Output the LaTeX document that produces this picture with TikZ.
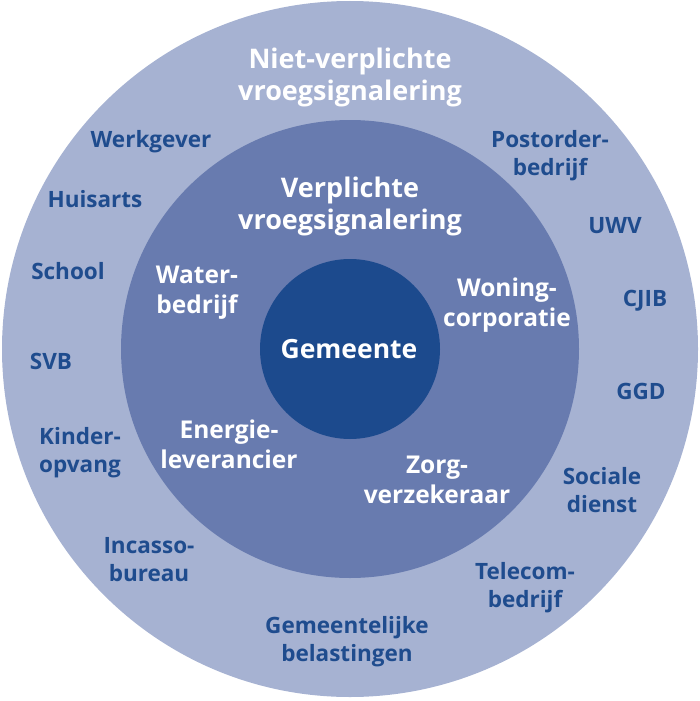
\documentclass[tikz,border=0pt]{standalone}
\usepackage{fontspec}
\setmainfont{Open Sans}
\definecolor{ringout}{HTML}{A6B2D2}
\definecolor{ringmid}{HTML}{687BAF}
\definecolor{core}{HTML}{1C4A8D}
\definecolor{labelblue}{HTML}{1F4C8E}
\begin{document}
\begin{tikzpicture}[x=1pt,y=-1pt,
  outer/.style={text=labelblue,align=center,inner sep=0pt,font=\bfseries\fontsize{22.5}{28}\selectfont},
  inner/.style={text=white,align=center,inner sep=0pt,font=\bfseries\fontsize{24.5}{30}\selectfont},
  centre/.style={text=white,align=center,inner sep=0pt,font=\bfseries\fontsize{26.5}{29}\selectfont},
  title/.style={text=white,align=center,inner sep=0pt,font=\bfseries\fontsize{27}{32}\selectfont}]

		\useasboundingbox (0,0) rectangle (700,701);

		\coordinate (O) at (350,349);

		\fill [ringout] (O) circle (348pt);
		\fill [ringmid] (O) circle (229pt);
		\fill [core] (O) circle (90pt);

		% titles
		\node [title] (niet) at (350,77) {Niet-verplichte\\vroegsignalering};
		\node [title] (verpl) at (350,206) {Verplichte\\vroegsignalering};

		% centre
		\node [centre] (gem) at (349,349) {Gemeente};

		% middle ring
		\node [inner] (water) at (197,293) {Water-\\bedrijf};
		\node [inner] (woning) at (507,305) {Woning-\\corporatie};
		\node [inner] (energie) at (229,444) {Energie-\\leverancier};
		\node [inner] (zorg) at (437,480) {Zorg-\\verzekeraar};

		% outer ring
		\node [outer] (werk) at (151,142) {Werkgever};
		\node [outer] (huis) at (95,199) {Huisarts};
		\node [outer] (school) at (68,271) {School};
		\node [outer] (svb) at (51,361) {SVB};
		\node [outer] (kinder) at (80,453) {Kinder-\\opvang};
		\node [outer] (incasso) at (149,560) {Incasso-\\bureau};
		\node [outer] (belast) at (347,642) {Gemeentelijke\\belastingen};
		\node [outer] (telecom) at (525,588) {Telecom-\\bedrijf};
		\node [outer] (sociaal) at (602,490) {Sociale\\dienst};
		\node [outer] (ggd) at (641,391) {GGD};
		\node [outer] (cjib) at (645,301) {CJIB};
		\node [outer] (uwv) at (615,226) {UWV};
		\node [outer] (post) at (550,156) {Postorder-\\bedrijf};

\end{tikzpicture}
\end{document}
